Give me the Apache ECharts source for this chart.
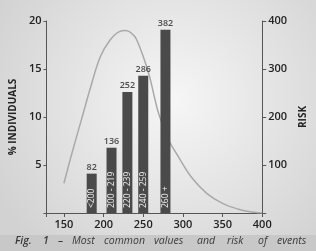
<!DOCTYPE html>
<html>
<head>
<meta charset="utf-8">
<script src="https://cdn.jsdelivr.net/npm/echarts@6/dist/echarts.min.js"></script>
<style>html,body{margin:0;padding:0;}#c{width:316px;height:251px;}</style>
</head>
<body>
<div id="c"></div>
<script>
const barX = [185, 210, 230, 250, 278];
const riskValues = [82, 136, 252, 286, 382];
const rangeLabels = ['<200', '200 - 219', '220 - 239', '240 - 259', '260 +'];
const curveX = [150, 160, 172, 184, 196, 208, 220, 228, 238, 242, 250, 258, 264, 270, 282, 294, 310, 330, 350, 370, 390, 400];
const curvePct = [3.1, 6.2, 9.7, 13.2, 16.3, 18.0, 18.9, 19.0, 18.5, 18.0, 16.3, 14.2, 12.1, 10.2, 7.6, 5.9, 3.8, 2.05, 1.0, 0.4, 0.07, 0];
const xTicks = [150, 200, 250, 300, 350, 400];
const pctTicks = [5, 10, 15, 20];
const riskTicks = [100, 200, 300, 400];
const captionWords = ['Fig.', '1', '–', 'Most', 'common', 'values', 'and', 'risk', 'of', 'events'];

const chart = echarts.init(document.getElementById('c'), null, {renderer: 'canvas'});
const FONT = 'Open Sans';
const axisCol = '#555';
const txtCol = '#222';
const capX = [15, 43, 58, 72, 104, 154, 197, 227, 258, 277];

chart.setOption({
  animation: false,
  backgroundColor: {
    type: 'radial', x: 0.55, y: 0.4, r: 0.8,
    colorStops: [{offset: 0, color: '#f6f6f6'}, {offset: 1, color: '#d2d2d2'}]
  },
  grid: {left: 42, right: 48, top: 21, bottom: 38},
  xAxis: {
    type: 'value', min: 128, max: 400,
    axisLine: {show: true, lineStyle: {color: axisCol, width: 1}},
    axisTick: {show: true, length: 4, customValues: [128].concat(xTicks), lineStyle: {color: axisCol}},
    axisLabel: {customValues: xTicks, color: txtCol, fontFamily: FONT, fontSize: 11, fontWeight: 600, margin: 6},
    splitLine: {show: false}
  },
  yAxis: [{
    type: 'value', min: 0, max: 20, interval: 5,
    name: '% INDIVIDUALS', nameLocation: 'middle', nameGap: 27,
    nameTextStyle: {color: txtCol, fontFamily: FONT, fontSize: 10, fontWeight: 'bold'},
    axisLine: {show: true, lineStyle: {color: axisCol}},
    axisTick: {show: true, length: 3, lineStyle: {color: axisCol}},
    axisLabel: {color: txtCol, fontFamily: FONT, fontSize: 11, fontWeight: 600, margin: 5,
      formatter: v => pctTicks.includes(v) ? String(v) : ''},
    splitLine: {show: false}
  }, {
    type: 'value', min: 0, max: 400, interval: 100, position: 'right',
    name: 'RISK', nameLocation: 'middle', nameGap: 33, nameRotate: 90,
    nameTextStyle: {color: txtCol, fontFamily: FONT, fontSize: 10, fontWeight: 'bold'},
    axisLine: {show: true, lineStyle: {color: axisCol}},
    axisTick: {show: true, length: 4, lineStyle: {color: axisCol}},
    axisLabel: {color: txtCol, fontFamily: FONT, fontSize: 11, fontWeight: 600, margin: 6,
      formatter: v => riskTicks.includes(v) ? String(v) : ''},
    splitLine: {show: false}
  }],
  series: [{
    type: 'line', yAxisIndex: 0, smooth: 0.4, symbol: 'none',
    lineStyle: {color: '#a9a9a9', width: 1.5},
    data: curveX.map((x, i) => [x, curvePct[i]]),
    z: 1
  }, {
    type: 'bar', yAxisIndex: 1, barWidth: 10,
    itemStyle: {color: '#4a4a4a'},
    data: barX.map((x, i) => [x, riskValues[i]]),
    label: {
      show: true, position: 'insideBottom', distance: 5, rotate: 90,
      align: 'left', verticalAlign: 'middle',
      color: '#f2f2f2', fontFamily: FONT, fontSize: 8.5,
      formatter: p => rangeLabels[p.dataIndex]
    },
    z: 3
  }, {
    type: 'scatter', yAxisIndex: 1, symbolSize: 0,
    data: barX.map((x, i) => [x, riskValues[i]]),
    label: {show: true, position: 'top', distance: 2, color: txtCol, fontFamily: FONT, fontSize: 9, fontWeight: 600,
      formatter: p => String(riskValues[p.dataIndex])},
    z: 4
  }],
  graphic: [{
    type: 'rect', left: 0, top: 235, shape: {width: 316, height: 16},
    style: {fill: '#c8c8c8'}, silent: true
  }].concat(captionWords.map((w, i) => ({
    type: 'text', left: capX[i], top: 236,
    style: {text: w, fill: '#3a3a3a', font: (i < 2 ? 'italic 600 ' : 'italic 400 ') + '10.5px "Open Sans"'}
  })))
});
</script>
</body>
</html>
